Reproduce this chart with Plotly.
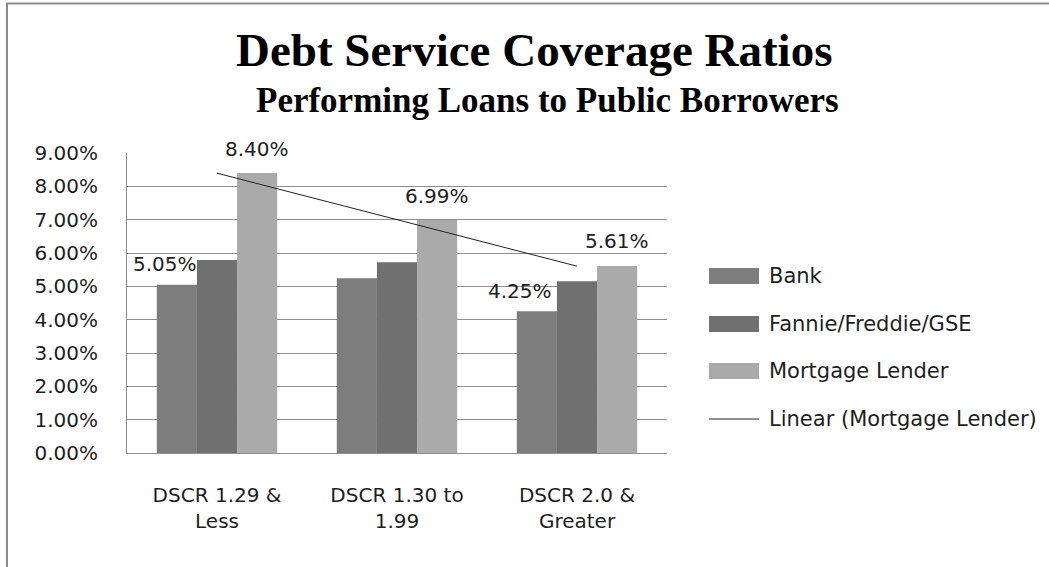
import numpy as np
import plotly.graph_objects as go

# ---- data ----
categories = ["DSCR 1.29 &<br>Less", "DSCR 1.30 to<br>1.99", "DSCR 2.0 &<br>Greater"]
series_names = ["Bank", "Fannie/Freddie/GSE", "Mortgage Lender"]
bank = [5.05, 5.24, 4.25]
fannie = [5.79, 5.72, 5.15]
mortgage = [8.40, 6.99, 5.61]
y_ticks = [0, 1, 2, 3, 4, 5, 6, 7, 8, 9]
trend_name = "Linear (Mortgage Lender)"

# ---- style ----
colors = ["#7d7d7d", "#707070", "#aaaaaa"]
FONT = "DejaVu Sans"
TXT = "#1e1e1e"
GRID = "#8e8e8e"

W, H = 1049, 567
L, R, T, B = 127, 382, 153, 114
PW, PH = W - L - R, H - T - B


def px_x(px):
    return (px - L) / PW


def px_y(py):
    return (H - B - py) / PH


fig = go.Figure()
for name, vals, col in zip(series_names, [bank, fannie, mortgage], colors):
    fig.add_trace(go.Bar(x=categories, y=vals, name=name, marker=dict(color=col, line=dict(width=0)),
                         showlegend=False, hoverinfo="y"))

# linear trend line of Mortgage Lender
idx = np.arange(1, len(mortgage) + 1)
slope, intercept = np.polyfit(idx, mortgage, 1)
trend = slope * idx + intercept
fig.add_trace(go.Scatter(x=categories, y=trend, mode="lines", name=trend_name,
                         line=dict(color="#222222", width=1), showlegend=False))

# data labels (series index, category index, xshift, yshift)
label_spec = [(0, 0, -52, 21), (0, 2, -57, 20), (2, 0, 40, 24), (2, 1, 40, 24), (2, 2, 40, 25)]
all_vals = [bank, fannie, mortgage]
annotations = []
for s, c, xs, ys in label_spec:
    v = all_vals[s][c]
    annotations.append(dict(x=categories[c], y=v, xref="x", yref="y", text=f"{v:.2f}%",
                            showarrow=False, xshift=xs, yshift=ys, yanchor="middle",
                            font=dict(family=FONT, size=20, color=TXT)))

# titles
annotations.append(dict(x=px_x(534), y=px_y(50), xref="paper", yref="paper",
                        text="<b>Debt Service Coverage Ratios</b>", showarrow=False,
                        xanchor="center", yanchor="middle",
                        font=dict(family="Liberation Serif", size=47, color="#000000")))
annotations.append(dict(x=px_x(547), y=px_y(100.5), xref="paper", yref="paper",
                        text="<b>Performing Loans to Public Borrowers</b>", showarrow=False,
                        xanchor="center", yanchor="middle",
                        font=dict(family="Liberation Serif", size=35, color="#000000")))

# manual legend
shapes = []
leg_y = [276, 324, 371, 419]
for i, (name, col) in enumerate(zip(series_names, colors)):
    yc = leg_y[i]
    shapes.append(dict(type="rect", xref="paper", yref="paper", x0=px_x(709), x1=px_x(759),
                       y0=px_y(yc + 8), y1=px_y(yc - 8), fillcolor=col, line=dict(width=0)))
    annotations.append(dict(x=px_x(767), y=px_y(yc), xref="paper", yref="paper", text=name,
                            showarrow=False, xanchor="left", yanchor="middle",
                            font=dict(family=FONT, size=21, color=TXT)))
shapes.append(dict(type="line", xref="paper", yref="paper", x0=px_x(709), x1=px_x(759),
                   y0=px_y(leg_y[3]), y1=px_y(leg_y[3]), line=dict(color="#222222", width=1)))
annotations.append(dict(x=px_x(767), y=px_y(leg_y[3]), xref="paper", yref="paper", text=trend_name,
                        showarrow=False, xanchor="left", yanchor="middle",
                        font=dict(family=FONT, size=21, color=TXT)))

# outer chart border
shapes.append(dict(type="rect", xref="paper", yref="paper", x0=px_x(7), x1=px_x(1060),
                   y0=px_y(580), y1=px_y(3.5), line=dict(color="#8a8a8a", width=2),
                   fillcolor="rgba(0,0,0,0)", layer="below"))

fig.update_layout(
    width=W, height=H,
    margin=dict(l=L, r=R, t=T, b=B, pad=0),
    paper_bgcolor="white", plot_bgcolor="white",
    barmode="group", bargap=0.331, bargroupgap=0,
    font=dict(family=FONT, size=20, color=TXT),
    annotations=annotations, shapes=shapes,
    showlegend=False,
)
fig.update_yaxes(range=[0, 9], tickvals=y_ticks, ticktext=[f"{t:.2f}%" for t in y_ticks],
                 showgrid=True, gridcolor=GRID, gridwidth=1,
                 showline=True, linecolor=GRID, linewidth=1, zeroline=False,
                 ticks="", ticklabelstandoff=24, tickfont=dict(family=FONT, size=20, color=TXT))
fig.update_xaxes(showgrid=False, showline=True, linecolor=GRID, linewidth=1,
                 ticks="", ticklabelstandoff=24, tickfont=dict(family=FONT, size=20, color=TXT))

fig.write_html("out.html")
